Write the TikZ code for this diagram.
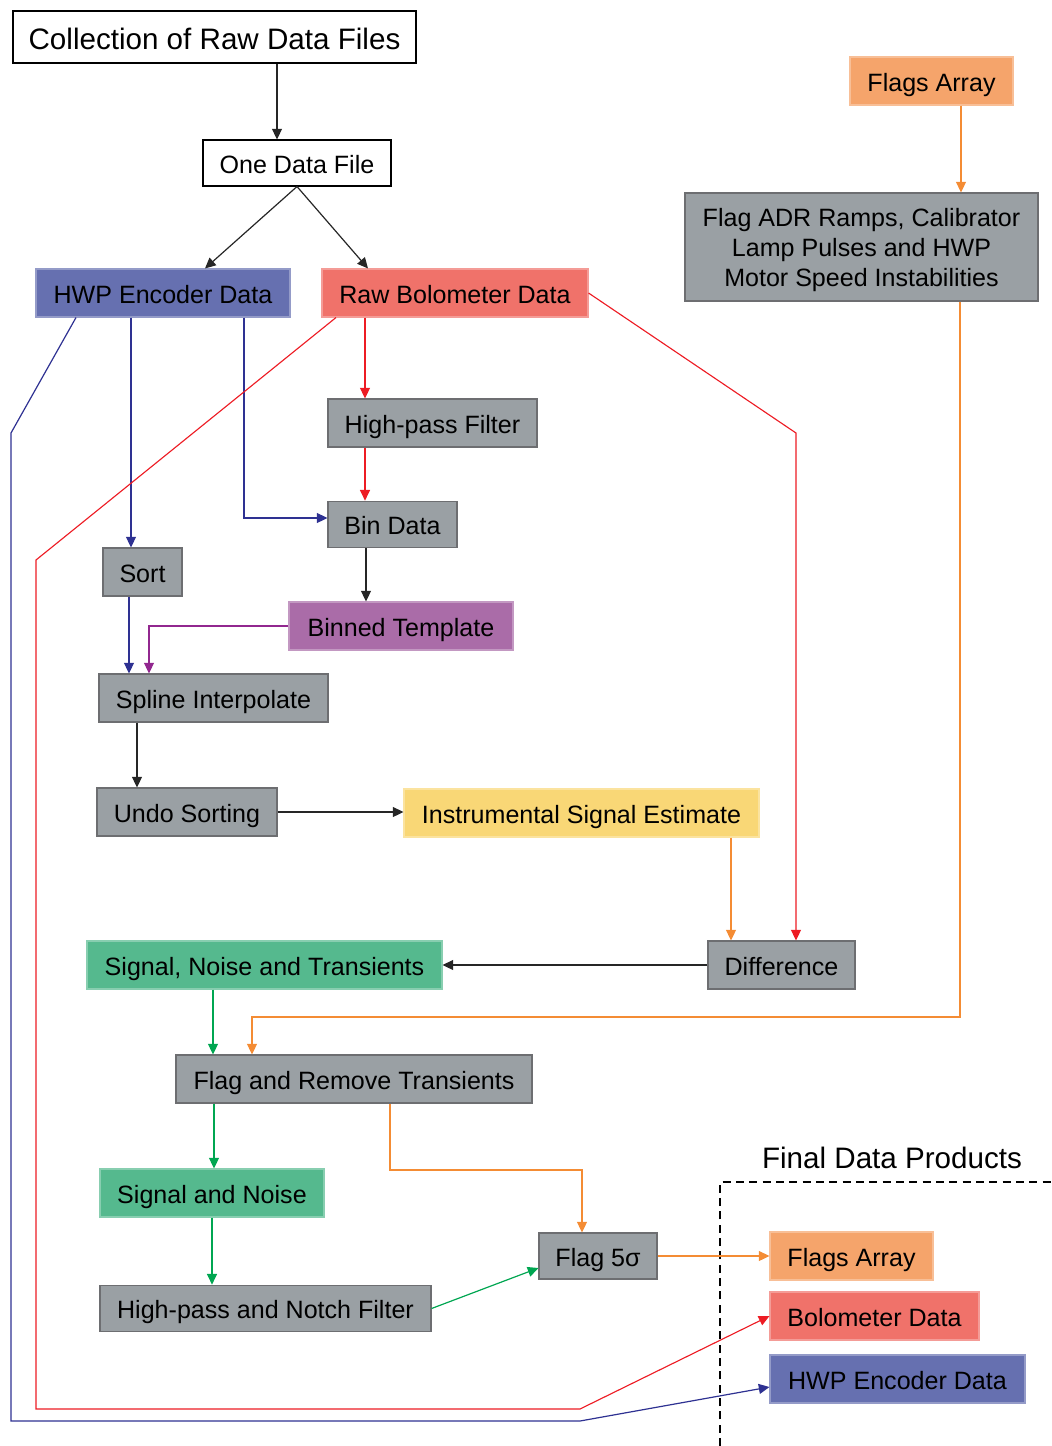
\documentclass[tikz,border=0pt]{standalone}
\usepackage{fontspec}
\setmainfont{Liberation Sans}
\usetikzlibrary{arrows.meta}
\definecolor{boxgrey}{HTML}{9AA0A4}
\definecolor{boxedge}{HTML}{6D6E71}
\definecolor{hwpfill}{HTML}{6670B0}
\definecolor{hwpline}{HTML}{2E3192}
\definecolor{bolofill}{HTML}{F0726A}
\definecolor{bololine}{HTML}{ED1C24}
\definecolor{flagfill}{HTML}{F5A46B}
\definecolor{flagline}{HTML}{F48C34}
\definecolor{tmplfill}{HTML}{AA6CA8}
\definecolor{tmplline}{HTML}{92278F}
\definecolor{isefill}{HTML}{F9D776}
\definecolor{sigfill}{HTML}{55B98E}
\definecolor{sigline}{HTML}{00A651}
\tikzset{
  box/.style={draw, minimum height=36pt, inner sep=0pt, line width=0.8pt,
    text height=17pt, text depth=2pt, font=\fontsize{18.8}{22.5}\selectfont},
  boxw/.style={minimum width=#1*0.75pt},
  plain/.style={box, fill=white, draw=black},
  grey/.style={box, fill=boxgrey, draw=boxedge},
  hwpbox/.style={box, fill=hwpfill, draw=hwpfill!70!white},
  bolobox/.style={box, fill=bolofill, draw=bolofill!70!white},
  flagbox/.style={box, fill=flagfill, draw=flagfill!70!white},
  tmplbox/.style={box, fill=tmplfill, draw=tmplfill!70!white},
  isebox/.style={box, fill=isefill, draw=isefill!70!white},
  sigbox/.style={box, fill=sigfill, draw=sigfill!70!white},
  link/.style={-{Triangle[width=7.5pt,length=8pt]}, line width=0.9pt, black!85},
  hwplink/.style={link, hwpline},
  bololink/.style={link, bololine},
  flaglink/.style={link, flagline},
  tmpllink/.style={link, tmplline},
  siglink/.style={link, sigline},
}
\begin{document}
\begin{tikzpicture}[x=0.75pt,y=-0.75pt]
  \useasboundingbox (0,0) rectangle (1052,1446);
  % input side
  \node[plain, boxw=403, minimum height=39pt, text height=19pt, text depth=1pt,
    font=\fontsize{22.2}{26}\selectfont] (raw) at (214.5,37) {Collection of Raw Data Files};
  \node[plain, boxw=188, minimum height=34.5pt] (one) at (297,163) {One Data File};
  \node[hwpbox, boxw=254] (hwp) at (163,293) {HWP Encoder Data};
  \node[bolobox, boxw=266] (bolo) at (455,293) {Raw Bolometer Data};
  \node[flagbox, boxw=163] (flags) at (931.5,81) {Flags Array};
  \node[grey, boxw=353, minimum height=81pt, align=center, text height=, text depth=-6pt] (adr) at (861.5,247)
    {Flag ADR Ramps, Calibrator\\Lamp Pulses and HWP\\Motor Speed Instabilities};
  % template
  \node[grey, boxw=209] (hpf) at (432.5,423) {High-pass Filter};
  \node[grey, boxw=129, minimum height=35pt] (bin) at (392.5,524.5) {Bin Data};
  \node[grey, boxw=79] (sort) at (142.5,572) {Sort};
  \node[tmplbox, boxw=224] (tmpl) at (401,626) {Binned Template};
  \node[grey, boxw=229] (spline) at (213.5,698) {Spline Interpolate};
  \node[grey, boxw=180] (undo) at (187,812) {Undo Sorting};
  \node[isebox, boxw=355] (ise) at (581.5,813) {Instrumental Signal Estimate};
  \node[grey, boxw=147] (diff) at (781.5,965) {Difference};
  % transients
  \node[sigbox, boxw=355] (snt) at (264.5,965) {Signal, Noise and Transients};
  \node[grey, boxw=356] (frt) at (354,1079) {Flag and Remove Transients};
  \node[sigbox, boxw=224] (sn) at (212,1193) {Signal and Noise};
  \node[grey, boxw=331, minimum height=35pt] (notch) at (265.5,1308.5) {High-pass and Notch Filter};
  \node[grey, boxw=118, minimum height=34.5pt] (f5) at (598,1256) {Flag 5σ};
  % products
  \node[font=\fontsize{22.2}{26}\selectfont] (fdp) at (892,1158) {Final Data Products};
  \node[flagbox, boxw=163] (fa2) at (851.5,1256) {Flags Array};
  \node[bolobox, boxw=209] (bd) at (874.5,1316) {Bolometer Data};
  \node[hwpbox, boxw=255] (hwp2) at (897.5,1379) {HWP Encoder Data};
  \draw[dashed, line width=1.4pt, dash pattern=on 6pt off 4pt] (720,1446) -- (720,1182) -- (1052,1182);

  \draw[link] (raw.south -| 277,0) -- (one.north -| 277,0);
  \draw[link] (one.south) -- (hwp.north -| 205,0);
  \draw[link] (one.south) -- (bolo.north -| 368,0);
  \draw[hwplink] (hwp.south -| 76,0) -- (11,433) -- (11,1421) -- (580,1421) -- (hwp2.west |- 0,1387);
  \draw[hwplink] (hwp.south -| 131,0) -- (sort.north -| 131,0);
  \draw[hwplink] (hwp.south -| 244,0) -- (244,518) -- (bin.west |- 0,518);
  \draw[bololink, line width=0.85pt] (bolo.south -| 336,0) -- (36,560) -- (36,1409) -- (580,1409) -- (bd.west);
  \draw[bololink] (bolo.south -| 365,0) -- (hpf.north -| 365,0);
  \draw[bololink] (hpf.south -| 365,0) -- (bin.north -| 365,0);
  \draw[bololink, line width=0.85pt] (bolo.east) -- (796,433) -- (diff.north -| 796,0);
  \draw[link] (bin.south -| 366,0) -- (tmpl.north -| 366,0);
  \draw[hwplink] (sort.south -| 129,0) -- (spline.north -| 129,0);
  \draw[tmpllink] (tmpl.west) -| (spline.north -| 149,0);
  \draw[link] (spline.south -| 137,0) -- (undo.north -| 137,0);
  \draw[link] (undo.east) -- (undo.east -| ise.west);
  \draw[flaglink] (ise.south -| 731,0) -- (diff.north -| 731,0);
  \draw[link] (diff.west) -- (snt.east);
  \draw[flaglink] (flags.south -| 961,0) -- (adr.north -| 961,0);
  \draw[flaglink] (adr.south -| 960,0) -- (960,1017) -| (frt.north -| 252,0);
  \draw[siglink] (snt.south -| 213,0) -- (frt.north -| 213,0);
  \draw[siglink] (frt.south -| 214,0) -- (sn.north -| 214,0);
  \draw[flaglink] (frt.south -| 390,0) -- (390,1170) -| (f5.north -| 582,0);
  \draw[siglink] (sn.south -| 212,0) -- (notch.north -| 212,0);
  \draw[siglink] (notch.east) -- (f5.west |- 0,1268);
  \draw[flaglink] (f5.east) -- (fa2.west);
\end{tikzpicture}
\end{document}
